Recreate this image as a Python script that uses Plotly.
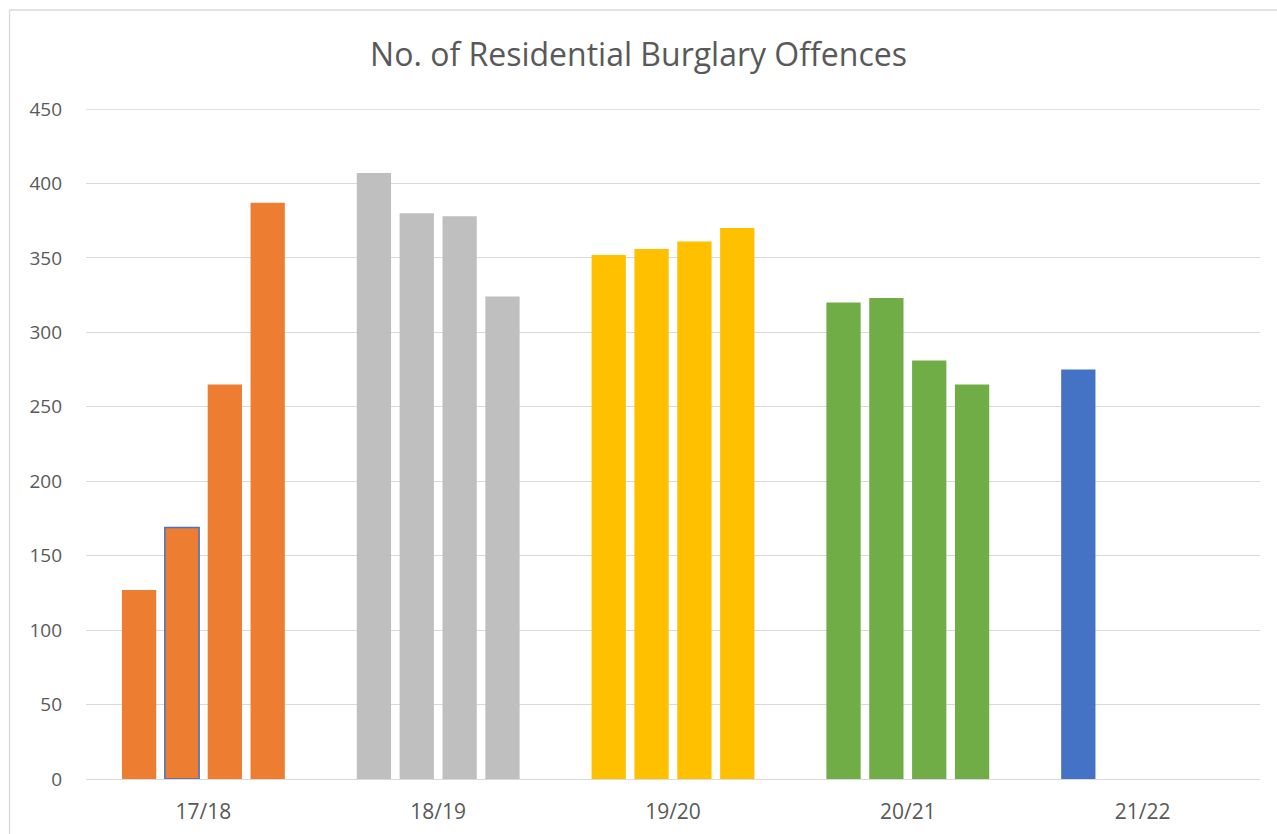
import plotly.graph_objects as go

categories = ["17/18", "18/19", "19/20", "20/21", "21/22"]
q1 = [127, 407, 352, 320, 275]
q2 = [169, 380, 356, 323, None]
q3 = [265, 378, 361, 281, None]
q4 = [387, 324, 370, 265, None]
category_colors = ["#ED7D31", "#BFBFBF", "#FFC000", "#70AD47", "#4472C4"]
y_max = 450

W, H = 1277, 834
L, R, T, B = 85.5, 1260.5, 109, 779

fig = go.Figure()
for i, vals in enumerate([q1, q2, q3, q4]):
    line_cols = ["#4472C4" if (i == 1 and j == 0) else c for j, c in enumerate(category_colors)]
    line_w = [1.5 if (i == 1 and j == 0) else 0 for j in range(len(categories))]
    fig.add_trace(go.Bar(
        x=categories, y=vals, name=f"Q{i+1}",
        marker=dict(color=category_colors, line=dict(color=line_cols, width=line_w)),
        showlegend=False, hoverinfo="x+y",
    ))

def px_x(p):
    return (p - L) / (R - L)

def px_y(p):
    return (B - p) / (B - T)

fig.add_shape(type="rect", xref="paper", yref="paper",
              x0=px_x(9), x1=px_x(1290), y0=px_y(10), y1=px_y(850),
              line=dict(color="#D9D9D9", width=1.3), fillcolor="rgba(0,0,0,0)", layer="below")
# top gridline at the axis maximum
fig.add_shape(type="line", xref="paper", yref="y", x0=0, x1=1, y0=y_max, y1=y_max,
              line=dict(color="#D9D9D9", width=1.3), layer="below")

fig.update_layout(
    width=W, height=H,
    margin=dict(l=L, r=W - R, t=T, b=H - B, pad=0, autoexpand=False),
    paper_bgcolor="white", plot_bgcolor="white",
    barmode="group", bargap=0.27, bargroupgap=0.2,
    title=dict(text="No. of Residential Burglary Offences", x=0.5, xanchor="center",
               y=1 - 55 / H, yanchor="middle",
               font=dict(family="Open Sans", size=32, color="#595959")),
    font=dict(family="Open Sans", color="#595959"),
    xaxis=dict(showgrid=False, showline=True, linecolor="#D9D9D9", linewidth=1.3,
               automargin=False,
               ticks="", tickfont=dict(size=21, color="#595959"), ticklabelstandoff=14),
    yaxis=dict(range=[0, y_max], dtick=50, showgrid=True, gridcolor="#D9D9D9", gridwidth=1.3,
               automargin=False,
               zeroline=False, ticks="", tickfont=dict(size=19, color="#595959"),
               ticklabelstandoff=23),
)

fig.write_html("out.html", config={"displayModeBar": False},
               post_script="document.body.style.margin='0';")
